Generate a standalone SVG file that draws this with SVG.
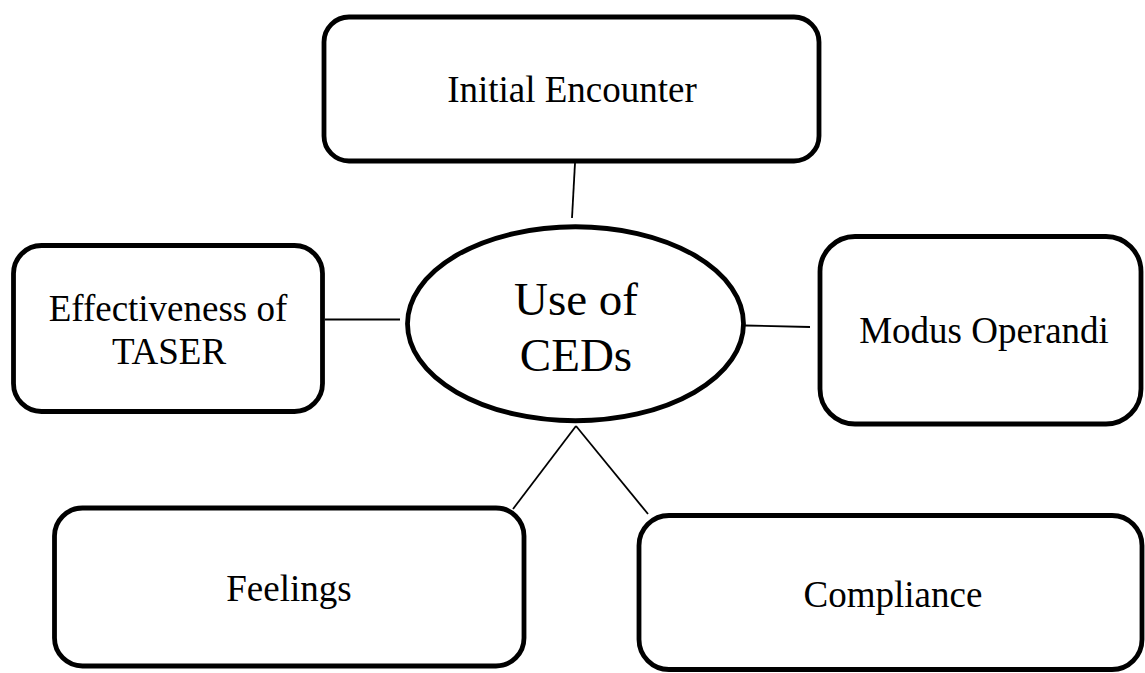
<svg xmlns="http://www.w3.org/2000/svg" width="1145" height="673" viewBox="0 0 1145 673">
<style>
.box{fill:#fff;stroke:#000;stroke-width:4.8}
.lbl{font-family:"Liberation Serif","Times New Roman",serif;font-size:37px;fill:#000;text-anchor:middle}
.big{font-size:47px}
.conn line{stroke:#000;stroke-width:1.8}
</style>
<rect width="1145" height="673" fill="#fff"/>
<g id="connectors" class="conn">
<line x1="575" y1="163" x2="572" y2="218"/>
<line x1="325" y1="319.5" x2="400" y2="319.5"/>
<line x1="745" y1="325.5" x2="810" y2="327"/>
<line x1="576" y1="426" x2="513" y2="509"/>
<line x1="576" y1="426" x2="648" y2="514"/>
</g>
<g id="initial-encounter">
<rect class="box" x="324" y="17" width="495" height="144" rx="25"/>
<text class="lbl" x="572" y="102">Initial Encounter</text>
</g>
<g id="effectiveness">
<rect class="box" x="13.5" y="245.5" width="309" height="166" rx="28"/>
<text class="lbl" x="168" y="321">Effectiveness of</text>
<text class="lbl" x="169" y="364">TASER</text>
</g>
<g id="modus-operandi">
<rect class="box" x="820" y="236.5" width="321" height="187.5" rx="35"/>
<text class="lbl" x="984" y="343">Modus Operandi</text>
</g>
<g id="feelings">
<rect class="box" x="54.5" y="508" width="469.5" height="158" rx="28"/>
<text class="lbl" x="289" y="601">Feelings</text>
</g>
<g id="compliance">
<rect class="box" x="639" y="515.5" width="503" height="154" rx="30"/>
<text class="lbl" x="893" y="607">Compliance</text>
</g>
<g id="use-of-ceds">
<ellipse class="box" cx="575.5" cy="323.75" rx="168" ry="97"/>
<text class="lbl big" x="576" y="315">Use of</text>
<text class="lbl big" x="576" y="371">CEDs</text>
</g>
</svg>
